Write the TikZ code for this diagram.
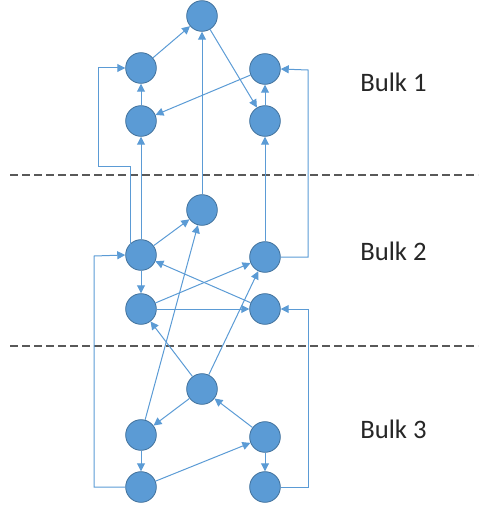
\documentclass[tikz,border=0pt]{standalone}
\usepackage{fontspec}
\setmainfont{Carlito}
\usetikzlibrary{arrows.meta}
\definecolor{nodefill}{HTML}{5B9BD5}
\definecolor{nodeedge}{HTML}{41719C}
\definecolor{linkc}{HTML}{5B9BD5}
\definecolor{dashc}{HTML}{595959}
\definecolor{textc}{HTML}{262626}
\tikzset{
  bnode/.style={circle,fill=nodefill,draw=nodeedge,line width=0.6pt,minimum size=23pt,inner sep=0pt},
  link/.style={draw=linkc,line width=0.75pt,-{Triangle[length=6pt,width=6pt]}},
  sep/.style={draw=dashc,line width=1pt,dash pattern=on 6pt off 3pt},
  bulklabel/.style={anchor=base west,text=textc,font=\fontsize{20}{24}\selectfont,inner sep=0pt}
}
\begin{document}
\begin{tikzpicture}[x=0.75pt,y=-0.75pt]
\useasboundingbox (0,0) rectangle (480,510);
% separators
\coordinate (s1a) at (10,175); \coordinate (s1b) at (478,175);
\coordinate (s2a) at (10,346); \coordinate (s2b) at (478,346);
\draw[sep] (s1a) -- (s1b);
\draw[sep] (s2a) -- (s2b);
% nodes
\node[bnode] (T) at (202,16) {};
\node[bnode] (L1u) at (141,68) {};
\node[bnode] (L1l) at (141,121) {};
\node[bnode] (R1u) at (265,69) {};
\node[bnode] (R1l) at (265,121) {};
\node[bnode] (M2) at (202,210) {};
\node[bnode] (L2u) at (141,255) {};
\node[bnode] (L2l) at (141,309) {};
\node[bnode] (R2u) at (265,257) {};
\node[bnode] (R2l) at (265,309) {};
\node[bnode] (M3) at (202,389) {};
\node[bnode] (L3u) at (141,435) {};
\node[bnode] (L3l) at (141,487) {};
\node[bnode] (R3u) at (265,437) {};
\node[bnode] (R3l) at (265,487) {};
% labels
\node[bulklabel] (b1) at (360,92) {Bulk 1};
\node[bulklabel] (b2) at (360,260) {Bulk 2};
\node[bulklabel] (b3) at (360,438) {Bulk 3};
% bulk 1 links
\draw[link] (L1u) -- (T);
\draw[link] (L1l) -- (L1u);
\draw[link] (L2u) -- (L1l);
\draw[link] (M2) -- (T);
\draw[link] (T) -- (R1l);
\draw[link] (R1u) -- (L1l);
\draw[link] (R1l) -- (R1u);
\draw[link] (R2u) -- (R1l);
\coordinate (e1a) at (130,245);
\draw[link] (e1a) -- (130,166) -- (98,166) -- (98,68) -- (L1u.west);
\draw[link] (R2u.east) -- (308,257) -- (308,70) -- (R1u.east);
% bulk 2 links
\draw[link] (L2u) -- (M2);
\draw[link] (L2u) -- (L2l);
\draw[link] (L3l.west) -- (94,487) -- (94,256) -- (L2u.west);
\draw[link] (L2l) -- (R2u);
\draw[link] (L2l) -- (R2l);
\draw[link] (R2l) -- (L2u);
\draw[link] (L3u) -- (M2);
\draw[link] (M3) -- (R2u);
\draw[link] (M3) -- (L2l);
\draw[link] (R3l.east) -- (308,487) -- (308,309) -- (R2l.east);
% bulk 3 links
\draw[link] (M3) -- (L3u);
\draw[link] (R3u) -- (M3);
\draw[link] (L3u) -- (L3l);
\draw[link] (R3u) -- (R3l);
\draw[link] (L3l) -- (R3u);
\end{tikzpicture}
\end{document}
